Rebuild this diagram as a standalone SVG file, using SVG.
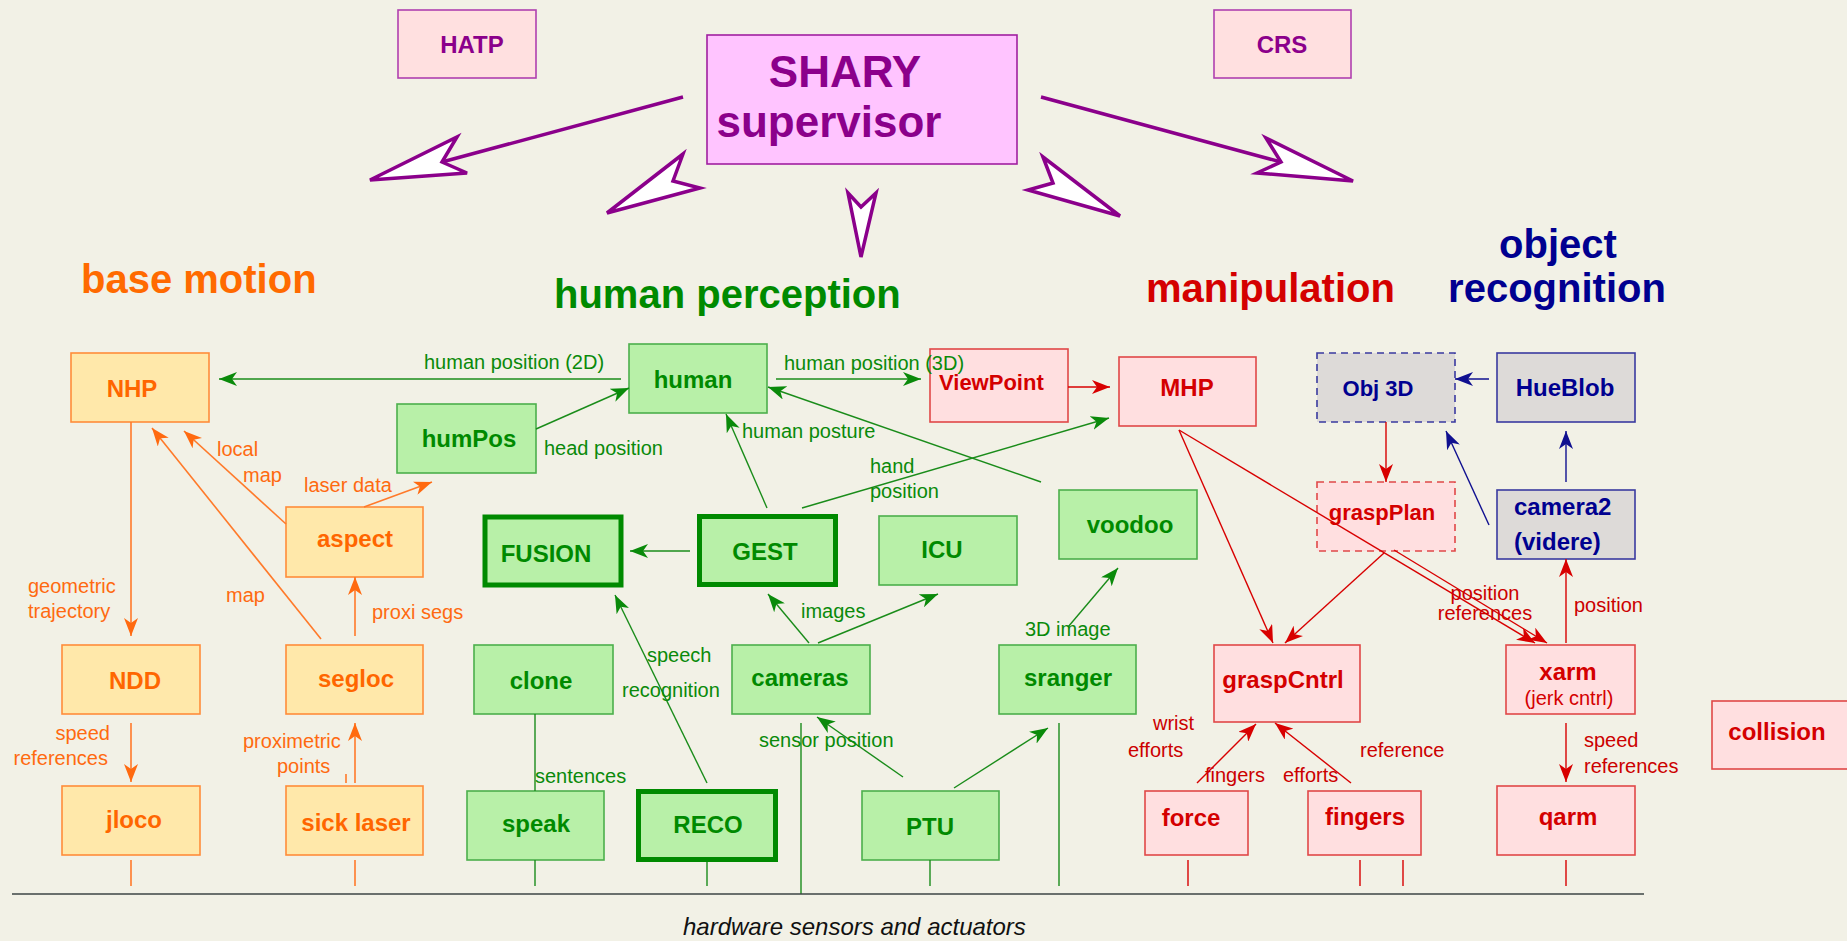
<svg xmlns="http://www.w3.org/2000/svg" width="1847" height="941" viewBox="0 0 1847 941">
<defs>
<style>
text{font-family:"Liberation Sans",Arial,Helvetica,sans-serif}
.nb{font-weight:bold;font-size:24px;text-anchor:middle}
.lb{font-size:20px}
.ttl{font-weight:bold;font-size:40px}
.or rect{fill:#ffe8aa;stroke:#ff8c3a;stroke-width:1.6}
.or text{fill:#ff6600}
.gr rect{fill:#b8f0a8;stroke:#4caf4c;stroke-width:1.6}
.gr text{fill:#008a00}
.gr rect.thick{stroke:#008a00;stroke-width:5}
.rd rect{fill:#ffdfe0;stroke:#e04848;stroke-width:1.6}
.rd text{fill:#d40000}
.nv rect{fill:#dddad8;stroke:#3a3aa0;stroke-width:1.6}
.nv text{fill:#000090}
.pu rect{fill:#ffe0e0;stroke:#b040b0;stroke-width:1.6}
.pu text{fill:#8b008b}
.dash{stroke-dasharray:7 5}
.co line,.co polyline{fill:none;stroke-width:1.4}
.co .o{stroke:#ff7a2a;stroke-width:1.6}
.co .g{stroke:#1a8c1a}
.co .r{stroke:#d80000}
.co .n{stroke:#101090}
.to{fill:#ff6a10}
.tg{fill:#0a8a0a}
.tr{fill:#cc0000}
.big{fill:#fff;stroke:#8b008b;stroke-width:3.5;stroke-linejoin:miter}
</style>
<marker id="ao" markerUnits="userSpaceOnUse" markerWidth="18" markerHeight="14" refX="18" refY="7" orient="auto"><path d="M0,0 L18,7 L0,14 L5,7 Z" fill="#ff6a10"/></marker>
<marker id="ag" markerUnits="userSpaceOnUse" markerWidth="18" markerHeight="14" refX="18" refY="7" orient="auto"><path d="M0,0 L18,7 L0,14 L5,7 Z" fill="#0a8a0a"/></marker>
<marker id="ar" markerUnits="userSpaceOnUse" markerWidth="18" markerHeight="14" refX="18" refY="7" orient="auto"><path d="M0,0 L18,7 L0,14 L5,7 Z" fill="#d80000"/></marker>
<marker id="an" markerUnits="userSpaceOnUse" markerWidth="18" markerHeight="14" refX="18" refY="7" orient="auto"><path d="M0,0 L18,7 L0,14 L5,7 Z" fill="#101090"/></marker>
</defs>
<rect x="0" y="0" width="1847" height="941" fill="#f2f1e6"/>

<!-- supervisor level -->
<g id="HATP" class="pu"><rect x="398" y="10" width="138" height="68"/><text class="nb" x="472" y="53">HATP</text></g>
<g id="CRS" class="pu"><rect x="1214" y="10" width="137" height="68"/><text class="nb" x="1282" y="53">CRS</text></g>
<g id="SHARY" class="pu"><rect x="707" y="35" width="310" height="129" style="fill:#ffc4ff;stroke:#a020a0"/><text x="845" y="87" style="font-weight:bold;font-size:44px;text-anchor:middle">SHARY</text><text x="829" y="137" style="font-weight:bold;font-size:44px;text-anchor:middle">supervisor</text></g>

<g id="supervisor-arrows">
<line x1="683" y1="97" x2="442" y2="162" stroke="#8b008b" stroke-width="3.5"/>
<polygon class="big" points="370,180 457,137 442,162 467,173"/>
<line x1="1041" y1="97" x2="1281" y2="162" stroke="#8b008b" stroke-width="3.5"/>
<polygon class="big" points="1353,181 1266,138 1281,162 1257,173"/>
<polygon class="big" points="683,154 673,181 700,188 607,213"/>
<polygon class="big" points="848,193 861,207 876,193 861,257"/>
<polygon class="big" points="1043,157 1053,183 1028,190 1120,216"/>
</g>

<!-- section titles -->
<text class="ttl" x="81" y="293" fill="#ff6a00">base motion</text>
<text class="ttl" x="554" y="308" fill="#008a00">human perception</text>
<text class="ttl" x="1146" y="302" fill="#d40000">manipulation</text>
<text class="ttl" x="1558" y="258" fill="#000090" text-anchor="middle">object</text>
<text class="ttl" x="1557" y="302" fill="#000090" text-anchor="middle">recognition</text>

<!-- base motion nodes -->
<g id="NHP" class="or"><rect x="71" y="353" width="138" height="69"/><text class="nb" x="132" y="397">NHP</text></g>
<g id="aspect" class="or"><rect x="286" y="507" width="137" height="70"/><text class="nb" x="355" y="547">aspect</text></g>
<g id="NDD" class="or"><rect x="62" y="645" width="138" height="69"/><text class="nb" x="135" y="689">NDD</text></g>
<g id="segloc" class="or"><rect x="286" y="645" width="137" height="69"/><text class="nb" x="356" y="687">segloc</text></g>
<g id="jloco" class="or"><rect x="62" y="786" width="138" height="69"/><text class="nb" x="134" y="828">jloco</text></g>
<g id="sicklaser" class="or"><rect x="286" y="786" width="137" height="69"/><text class="nb" x="356" y="831">sick laser</text></g>

<!-- human perception nodes -->
<g id="human" class="gr"><rect x="629" y="344" width="138" height="69"/><text class="nb" x="693" y="388">human</text></g>
<g id="humPos" class="gr"><rect x="397" y="404" width="139" height="69"/><text class="nb" x="469" y="447">humPos</text></g>
<g id="FUSION" class="gr"><rect class="thick" x="485" y="517" width="136" height="68"/><text class="nb" x="546" y="562">FUSION</text></g>
<g id="GEST" class="gr"><rect class="thick" x="699.5" y="516.5" width="136" height="68"/><text class="nb" x="765" y="560">GEST</text></g>
<g id="ICU" class="gr"><rect x="879" y="516" width="138" height="69"/><text class="nb" x="942" y="558">ICU</text></g>
<g id="voodoo" class="gr"><rect x="1059" y="490" width="138" height="69"/><text class="nb" x="1130" y="533">voodoo</text></g>
<g id="clone" class="gr"><rect x="474" y="645" width="139" height="69"/><text class="nb" x="541" y="689">clone</text></g>
<g id="cameras" class="gr"><rect x="732" y="645" width="138" height="69"/><text class="nb" x="800" y="686">cameras</text></g>
<g id="sranger" class="gr"><rect x="999" y="645" width="137" height="69"/><text class="nb" x="1068" y="686">sranger</text></g>
<g id="speak" class="gr"><rect x="467" y="791" width="137" height="69"/><text class="nb" x="536" y="832">speak</text></g>
<g id="RECO" class="gr"><rect class="thick" x="638.5" y="791.5" width="137" height="68"/><text class="nb" x="708" y="833">RECO</text></g>
<g id="PTU" class="gr"><rect x="862" y="791" width="137" height="69"/><text class="nb" x="930" y="835">PTU</text></g>

<!-- manipulation nodes -->
<g id="ViewPoint" class="rd"><rect x="930" y="349" width="138" height="73"/><text x="939" y="390" style="font-weight:bold;font-size:22px">ViewPoint</text></g>
<g id="MHP" class="rd"><rect x="1119" y="357" width="137" height="69"/><text class="nb" x="1187" y="396">MHP</text></g>
<g id="graspPlan" class="rd"><rect class="dash" x="1317" y="482" width="138" height="69"/><text class="nb" x="1382" y="520" style="font-size:22px">graspPlan</text></g>
<g id="graspCntrl" class="rd"><rect x="1214" y="645" width="146" height="77"/><text class="nb" x="1283" y="688">graspCntrl</text></g>
<g id="xarm" class="rd"><rect x="1506" y="645" width="129" height="69"/><text class="nb" x="1568" y="680">xarm</text><text x="1569" y="705" style="font-size:20px;text-anchor:middle">(jerk cntrl)</text></g>
<g id="force" class="rd"><rect x="1145" y="791" width="103" height="64"/><text class="nb" x="1191" y="826">force</text></g>
<g id="fingers" class="rd"><rect x="1308" y="791" width="113" height="64"/><text class="nb" x="1365" y="825">fingers</text></g>
<g id="qarm" class="rd"><rect x="1497" y="786" width="138" height="69"/><text class="nb" x="1568" y="825">qarm</text></g>
<g id="collision" class="rd"><rect x="1712" y="701" width="140" height="68"/><text class="nb" x="1777" y="740">collision</text></g>

<!-- object recognition nodes -->
<g id="Obj3D" class="nv"><rect class="dash" x="1317" y="353" width="138" height="69"/><text class="nb" x="1378" y="396" style="font-size:22px">Obj 3D</text></g>
<g id="HueBlob" class="nv"><rect x="1497" y="353" width="138" height="69"/><text class="nb" x="1565" y="396">HueBlob</text></g>
<g id="camera2" class="nv"><rect x="1497" y="490" width="138" height="69"/><text x="1514" y="515" style="font-weight:bold;font-size:24px">camera2</text><text x="1514" y="550" style="font-weight:bold;font-size:24px">(videre)</text></g>

<!-- connectors -->
<g id="connectors" class="co">
<!-- orange -->
<line class="o" x1="131" y1="422" x2="131" y2="636" marker-end="url(#ao)"/>
<line class="o" x1="286" y1="524" x2="184" y2="431" marker-end="url(#ao)"/>
<line class="o" x1="321" y1="639" x2="152" y2="428" marker-end="url(#ao)"/>
<line class="o" x1="364" y1="507" x2="432" y2="482" marker-end="url(#ao)"/>
<line class="o" x1="355" y1="636" x2="355" y2="577" marker-end="url(#ao)"/>
<line class="o" x1="131" y1="723" x2="131" y2="782" marker-end="url(#ao)"/>
<line class="o" x1="355" y1="783" x2="355" y2="723" marker-end="url(#ao)"/>
<line class="o" x1="346" y1="774" x2="346" y2="783"/>
<line class="o" x1="131" y1="860" x2="131" y2="886"/>
<line class="o" x1="355" y1="860" x2="355" y2="886"/>
<text class="lb to" x="28" y="593">geometric</text>
<text class="lb to" x="28" y="618">trajectory</text>
<text class="lb to" x="217" y="456">local</text>
<text class="lb to" x="243" y="482">map</text>
<text class="lb to" x="226" y="602">map</text>
<text class="lb to" x="304" y="492">laser data</text>
<text class="lb to" x="372" y="619">proxi segs</text>
<text class="lb to" x="110" y="740" text-anchor="end">speed</text>
<text class="lb to" x="108" y="765" text-anchor="end">references</text>
<text class="lb to" x="243" y="748">proximetric</text>
<text class="lb to" x="277" y="773">points</text>

<!-- green -->
<line class="g" x1="621" y1="379" x2="219" y2="379" marker-end="url(#ag)"/>
<line class="g" x1="776" y1="379" x2="921" y2="379" marker-end="url(#ag)"/>
<line class="g" x1="536" y1="429" x2="629" y2="388" marker-end="url(#ag)"/>
<line class="g" x1="767" y1="508" x2="726" y2="414" marker-end="url(#ag)"/>
<line class="g" x1="1041" y1="482" x2="768" y2="387" marker-end="url(#ag)"/>
<line class="g" x1="802" y1="508" x2="1109" y2="418" marker-end="url(#ag)"/>
<line class="g" x1="690" y1="551" x2="630" y2="551" marker-end="url(#ag)"/>
<line class="g" x1="809" y1="643" x2="768" y2="594" marker-end="url(#ag)"/>
<line class="g" x1="818" y1="643" x2="938" y2="594" marker-end="url(#ag)"/>
<line class="g" x1="1068" y1="627" x2="1118" y2="568" marker-end="url(#ag)"/>
<line class="g" x1="707" y1="783" x2="615" y2="595" marker-end="url(#ag)"/>
<line class="g" x1="535" y1="714" x2="535" y2="791"/>
<line class="g" x1="903" y1="777" x2="817" y2="717" marker-end="url(#ag)"/>
<line class="g" x1="954" y1="788" x2="1048" y2="728" marker-end="url(#ag)"/>
<line class="g" x1="801" y1="723" x2="801" y2="894"/>
<line class="g" x1="1059" y1="723" x2="1059" y2="886"/>
<line class="g" x1="535" y1="860" x2="535" y2="886"/>
<line class="g" x1="707" y1="862" x2="707" y2="886"/>
<line class="g" x1="930" y1="860" x2="930" y2="886"/>
<text class="lb tg" x="424" y="369">human position (2D)</text>
<text class="lb tg" x="784" y="370">human position (3D)</text>
<text class="lb tg" x="544" y="455">head position</text>
<text class="lb tg" x="742" y="438">human posture</text>
<text class="lb tg" x="870" y="473">hand</text>
<text class="lb tg" x="870" y="498">position</text>
<text class="lb tg" x="801" y="618">images</text>
<text class="lb tg" x="1025" y="636">3D image</text>
<text class="lb tg" x="647" y="662">speech</text>
<text class="lb tg" x="622" y="697">recognition</text>
<text class="lb tg" x="535" y="783">sentences</text>
<text class="lb tg" x="759" y="747">sensor position</text>

<!-- red -->
<line class="r" x1="1068" y1="387" x2="1110" y2="387" marker-end="url(#ar)"/>
<line class="r" x1="1179" y1="430" x2="1273" y2="643" marker-end="url(#ar)"/>
<line class="r" x1="1179" y1="430" x2="1535" y2="643" marker-end="url(#ar)"/>
<line class="r" x1="1394" y1="550" x2="1547" y2="643" marker-end="url(#ar)"/>
<line class="r" x1="1384" y1="553" x2="1285" y2="643" marker-end="url(#ar)"/>
<line class="r" x1="1386" y1="422" x2="1386" y2="482" marker-end="url(#ar)"/>
<line class="r" x1="1566" y1="643" x2="1566" y2="559" marker-end="url(#ar)"/>
<line class="r" x1="1197" y1="783" x2="1256" y2="724" marker-end="url(#ar)"/>
<line class="r" x1="1351" y1="783" x2="1275" y2="723" marker-end="url(#ar)"/>
<line class="r" x1="1566" y1="723" x2="1566" y2="782" marker-end="url(#ar)"/>
<line class="r" x1="1188" y1="860" x2="1188" y2="886"/>
<line class="r" x1="1360" y1="860" x2="1360" y2="886"/>
<line class="r" x1="1403" y1="860" x2="1403" y2="886"/>
<line class="r" x1="1566" y1="860" x2="1566" y2="886"/>
<text class="lb tr" x="1485" y="600" text-anchor="middle">position</text>
<text class="lb tr" x="1485" y="620" text-anchor="middle">references</text>
<text class="lb tr" x="1574" y="612">position</text>
<text class="lb tr" x="1153" y="730">wrist</text>
<text class="lb tr" x="1128" y="757">efforts</text>
<text class="lb tr" x="1205" y="782">fingers</text>
<text class="lb tr" x="1283" y="782">efforts</text>
<text class="lb tr" x="1360" y="757">reference</text>
<text class="lb tr" x="1584" y="747">speed</text>
<text class="lb tr" x="1584" y="773">references</text>

<!-- navy -->
<line class="n" x1="1489" y1="379" x2="1455" y2="379" marker-end="url(#an)"/>
<line class="n" x1="1566" y1="482" x2="1566" y2="431" marker-end="url(#an)"/>
<line class="n" x1="1489" y1="525" x2="1446" y2="431" marker-end="url(#an)"/>
</g>

<!-- hardware -->
<g id="hardware">
<line x1="12" y1="894" x2="1644" y2="894" stroke="#3c4444" stroke-width="1.6"/>
<text x="683" y="935" style="font-style:italic;font-size:24px" fill="#111">hardware sensors and actuators</text>
</g>
</svg>
